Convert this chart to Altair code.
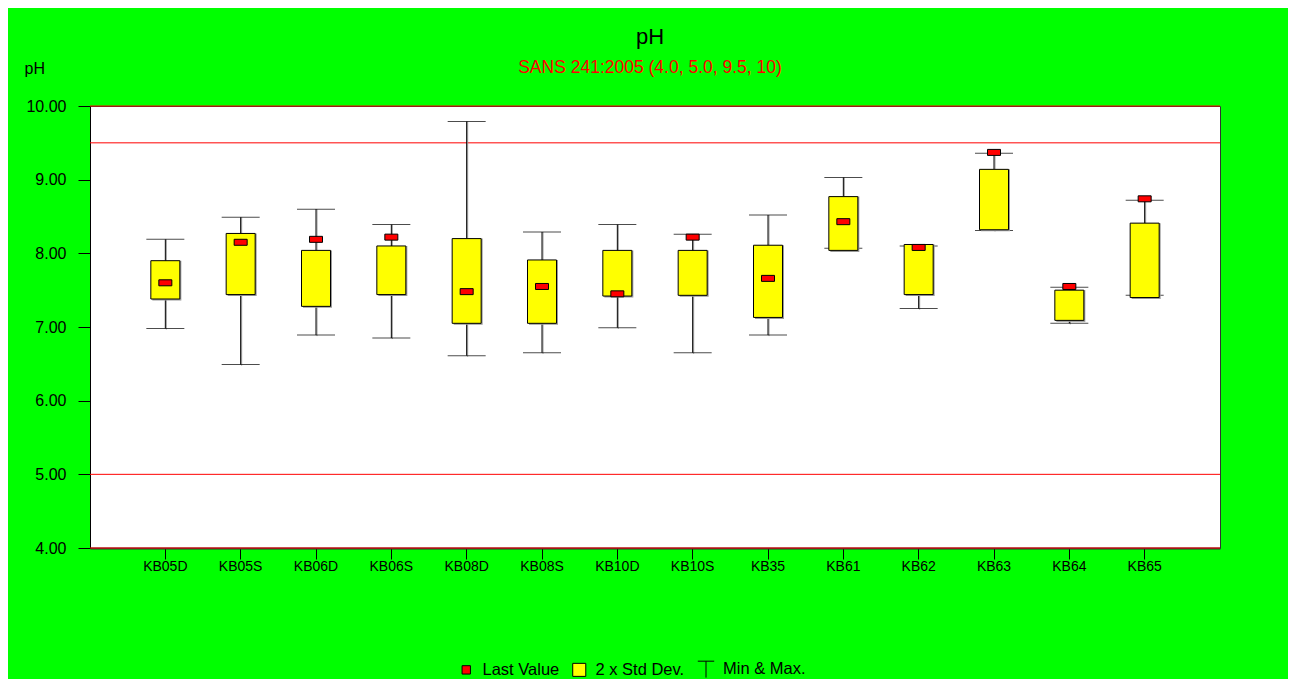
import altair as alt
import pandas as pd

sites = ["KB05D", "KB05S", "KB06D", "KB06S", "KB08D", "KB08S", "KB10D",
         "KB10S", "KB35", "KB61", "KB62", "KB63", "KB64", "KB65"]
min_vals = [6.98, 6.49, 6.89, 6.85, 6.61, 6.65, 6.99, 6.65, 6.89, 8.07, 7.25, 8.31, 7.05, 7.43]
max_vals = [8.19, 8.49, 8.60, 8.39, 9.79, 8.29, 8.39, 8.26, 8.52, 9.03, 8.10, 9.36, 7.54, 8.72]
box_low = [7.38, 7.44, 7.28, 7.44, 7.05, 7.05, 7.42, 7.43, 7.13, 8.04, 7.44, 8.32, 7.09, 7.40]
box_high = [7.90, 8.27, 8.04, 8.10, 8.20, 7.91, 8.04, 8.04, 8.11, 8.77, 8.12, 9.14, 7.50, 8.41]
last_vals = [7.60, 8.15, 8.19, 8.22, 7.48, 7.55, 7.45, 8.22, 7.66, 8.43, 8.08, 9.37, 7.55, 8.74]

limits = [4.0, 5.0, 9.5, 10.0]
y_ticks = [4, 5, 6, 7, 8, 9, 10]

legend_items = ["Last Value", "2 x Std Dev.", "Min & Max."]
legend_colors = ["#ff0000", "#ffff00", "transparent"]
legend_shapes = ["square", "square", "M-1,-1L1,-1M0,-1L0,1"]
legend_sizes = [70, 270, 260]
legend_carrier_y = [0, 0, 0]  # outside the 4-10 domain, clipped away

FONT = "Liberation Sans"

df = pd.DataFrame({
    "site": sites, "min": min_vals, "max": max_vals,
    "lo": box_low, "hi": box_high, "last": last_vals,
})
lim_df = pd.DataFrame({"limit": limits})
leg_df = pd.DataFrame({"series": legend_items, "yy": legend_carrier_y})

x_enc = alt.X("site:N", sort=sites,
              scale=alt.Scale(paddingInner=0, paddingOuter=0.5),
              axis=alt.Axis(title=None, labelAngle=0, labelFontSize=14, labelFont=FONT,
                            labelColor="black", tickColor="black", tickSize=11,
                            labelPadding=0, domainColor="#333333", domainWidth=2))
y_scale = alt.Scale(domain=[4, 10], nice=False, zero=False)
y_axis = alt.Axis(values=y_ticks, format=".2f", grid=False, labelFontSize=16,
                  labelFont=FONT, labelColor="black", tickColor="black", tickSize=12,
                  labelPadding=12, domainColor="black",
                  title="pH", titleAngle=0, titleX=-66, titleY=-38, titleAlign="left",
                  titleBaseline="middle", titleFontSize=16, titleFontWeight="normal",
                  titleFont=FONT, titleColor="black")

base = alt.Chart(df)

rules = alt.Chart(lim_df).mark_rule(color="#ff0000", strokeWidth=1).encode(
    y=alt.Y("limit:Q", scale=y_scale, axis=y_axis)
)

whisk_sh = base.mark_rule(color="#9a9a9a", strokeWidth=1, xOffset=1, yOffset=1).encode(
    x=x_enc, y=alt.Y("min:Q", scale=y_scale), y2="max:Q"
)
whisk = base.mark_rule(color="black", strokeWidth=1).encode(
    x=x_enc, y=alt.Y("min:Q", scale=y_scale), y2="max:Q"
)
cap_lo = base.mark_tick(color="black", size=38, thickness=1).encode(
    x=x_enc, y=alt.Y("min:Q", scale=y_scale)
)
cap_hi = base.mark_tick(color="black", size=38, thickness=1).encode(
    x=x_enc, y=alt.Y("max:Q", scale=y_scale)
)
boxes_sh = base.mark_bar(size=29, fill="#9a9a9a", xOffset=1.5, yOffset=1.5).encode(
    x=x_enc, y=alt.Y("lo:Q", scale=y_scale), y2="hi:Q"
)
boxes = base.mark_bar(size=29, fill="#ffff00", stroke="black", strokeWidth=1).encode(
    x=x_enc, y=alt.Y("lo:Q", scale=y_scale), y2="hi:Q"
)
last = base.mark_tick(size=13, thickness=6, fill="#ff0000", stroke="black",
                      strokeWidth=1, opacity=1).encode(
    x=x_enc, y=alt.Y("last:Q", scale=y_scale)
)

legend_layer = alt.Chart(leg_df).mark_point(filled=True, clip=True, opacity=1,
                                            stroke="black", strokeWidth=1).encode(
    y=alt.Y("yy:Q", scale=y_scale),
    color=alt.Color("series:N", sort=legend_items,
                    scale=alt.Scale(domain=legend_items, range=legend_colors),
                    legend=alt.Legend(title=None, orient="none", legendX=368, legendY=554,
                                      direction="horizontal", labelFontSize=16.5,
                                      labelFont=FONT, labelColor="black",
                                      symbolStrokeColor="black", symbolStrokeWidth=1,
                                      symbolOpacity=1,
                                      labelOffset=8, columnPadding=10)),
    shape=alt.Shape("series:N", sort=legend_items,
                    scale=alt.Scale(domain=legend_items, range=legend_shapes)),
    size=alt.Size("series:N", sort=legend_items,
                  scale=alt.Scale(domain=legend_items, range=legend_sizes)),
)

chart = alt.layer(rules, whisk_sh, whisk, cap_lo, cap_hi, boxes_sh, boxes, last,
                  legend_layer).properties(
    width=1130, height=442,
    background="#00ff00",
    view=alt.ViewBackground(fill="white", stroke="#333333", strokeWidth=1),
    autosize=alt.AutoSizeParams(type="none"),
    padding={"left": 82, "top": 98, "right": 68, "bottom": 160},
    title=alt.TitleParams(text="pH", subtitle="SANS 241:2005 (4.0, 5.0, 9.5, 10)",
                          fontSize=22, fontWeight="normal", font=FONT, color="black",
                          subtitleFont=FONT, subtitleFontSize=17.5, subtitleColor="#ff0000",
                          subtitlePadding=10, anchor="middle", offset=0, dy=17, dx=-5),
).configure_view(fill="white", stroke="#333333", strokeWidth=1)

chart.save("out.html", embed_options={"renderer": "svg", "actions": False})
